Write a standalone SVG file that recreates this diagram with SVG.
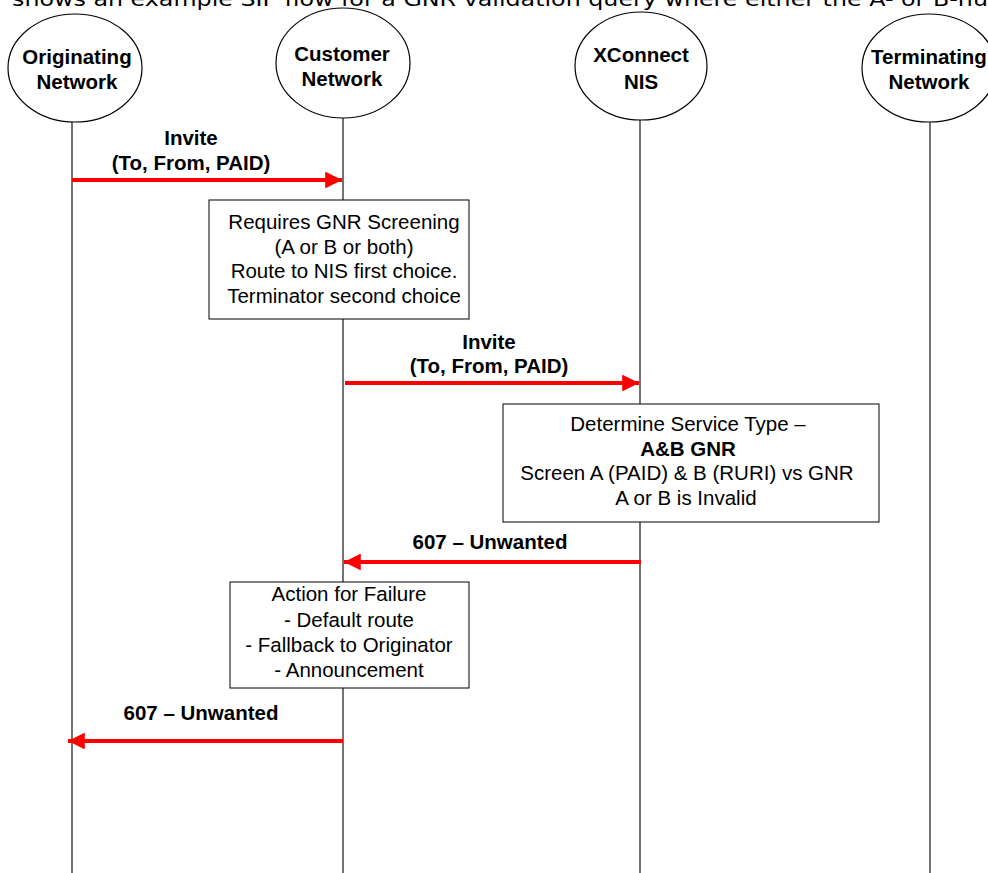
<svg xmlns="http://www.w3.org/2000/svg" width="988" height="873" viewBox="0 0 988 873">
<defs>
<style>
.ll{stroke:#000;stroke-width:1.1;fill:none}
.node{fill:#fff;stroke:#000;stroke-width:1.2}
.box{fill:#fff;stroke:#000;stroke-width:1}
.msg{stroke:#ff0000;stroke-width:4;fill:none}
.nt{font-family:"Liberation Sans",Arial,sans-serif;font-size:20.5px;font-weight:bold;text-anchor:middle;fill:#000}
.lb{font-family:"Liberation Sans",Arial,sans-serif;font-size:20.5px;font-weight:bold;text-anchor:middle;fill:#000}
.bt{font-family:"Liberation Sans",Arial,sans-serif;font-size:20.5px;text-anchor:middle;fill:#000}
.cap{font-family:"DejaVu Sans",Verdana,sans-serif;font-size:19px;fill:#000}
</style>
<marker id="ah" viewBox="0 0 10 10" refX="10" refY="5" markerWidth="7" markerHeight="4.2" markerUnits="strokeWidth" orient="auto">
<path d="M0,0 L10,5 L0,10 Z" fill="#ff0000"/>
</marker>
</defs>
<rect width="988" height="873" fill="#fff"/>
<text class="cap" x="12" y="6" textLength="976" lengthAdjust="spacingAndGlyphs">shows an example SIP flow for a GNR validation query where either the A- or B-nu</text>
<g id="lifelines">
<line class="ll" x1="72" y1="122" x2="72" y2="873"/>
<line class="ll" x1="343" y1="117" x2="343" y2="873"/>
<line class="ll" x1="640" y1="120" x2="640" y2="873"/>
<line class="ll" x1="930" y1="122" x2="930" y2="873"/>
</g>
<g id="node-originating">
<ellipse class="node" cx="75" cy="68" rx="67" ry="54"/>
<text class="nt" x="77" y="64">Originating</text>
<text class="nt" x="77" y="89">Network</text>
</g>
<g id="node-customer">
<ellipse class="node" cx="343" cy="63" rx="67" ry="55"/>
<text class="nt" x="342" y="61">Customer</text>
<text class="nt" x="342" y="86">Network</text>
</g>
<g id="node-xconnect">
<ellipse class="node" cx="641" cy="66" rx="66" ry="54"/>
<text class="nt" x="641" y="62">XConnect</text>
<text class="nt" x="641" y="89">NIS</text>
</g>
<g id="node-terminating">
<ellipse class="node" cx="929" cy="68" rx="67" ry="54"/>
<text class="nt" x="929" y="64">Terminating</text>
<text class="nt" x="929" y="89">Network</text>
</g>
<g id="connectors">
<line class="msg" x1="72" y1="180" x2="342" y2="180" marker-end="url(#ah)"/>
<line class="msg" x1="345" y1="383" x2="639" y2="383" marker-end="url(#ah)"/>
<line class="msg" x1="641" y1="562" x2="344" y2="562" marker-end="url(#ah)"/>
<line class="msg" x1="343" y1="741" x2="68" y2="741" marker-end="url(#ah)"/>
</g>
<g id="labels">
<text class="lb" x="191" y="145">Invite</text>
<text class="lb" x="191" y="170">(To, From, PAID)</text>
<text class="lb" x="489" y="349">Invite</text>
<text class="lb" x="489" y="373">(To, From, PAID)</text>
<text class="lb" x="490" y="549">607 – Unwanted</text>
<text class="lb" x="201" y="720">607 – Unwanted</text>
</g>
<g id="box-screening">
<rect class="box" x="209" y="200" width="260" height="119"/>
<text class="bt" x="344" y="229">Requires GNR Screening</text>
<text class="bt" x="344" y="254">(A or B or both)</text>
<text class="bt" x="344" y="278">Route to NIS first choice.</text>
<text class="bt" x="344" y="303">Terminator second choice</text>
</g>
<g id="box-service">
<rect class="box" x="503" y="404" width="376" height="118"/>
<text class="bt" x="688" y="431">Determine Service Type –</text>
<text class="bt" x="688" y="456" font-weight="bold">A&amp;B GNR</text>
<text class="bt" x="687" y="480">Screen A (PAID) &amp; B (RURI) vs GNR</text>
<text class="bt" x="686" y="505">A or B is Invalid</text>
</g>
<g id="box-failure">
<rect class="box" x="230" y="582" width="239" height="106"/>
<text class="bt" x="349" y="601">Action for Failure</text>
<text class="bt" x="349" y="627">- Default route</text>
<text class="bt" x="349" y="652">- Fallback to Originator</text>
<text class="bt" x="349" y="677">- Announcement</text>
</g>
</svg>
